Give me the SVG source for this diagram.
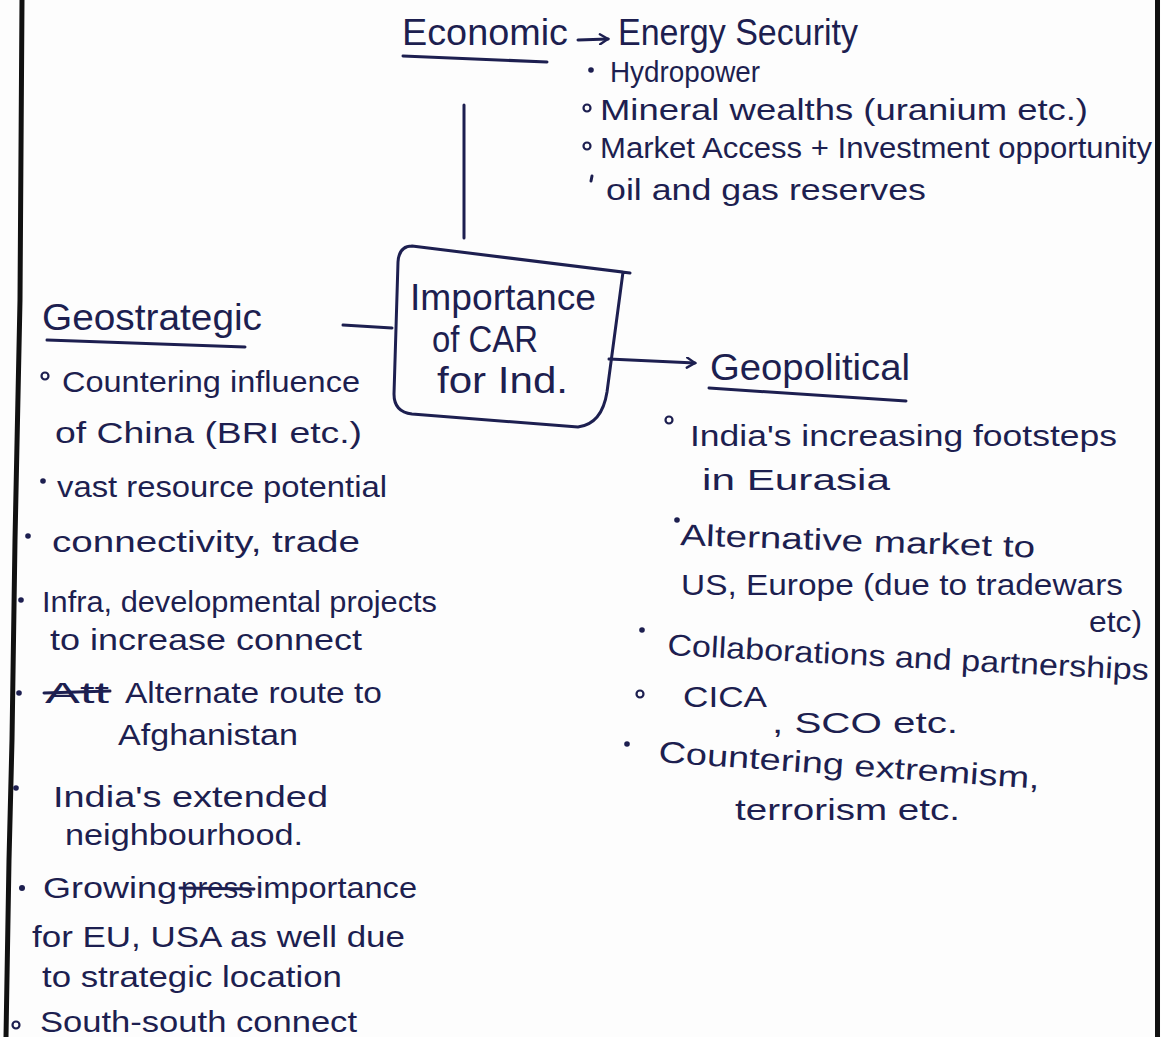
<svg xmlns="http://www.w3.org/2000/svg" width="1161" height="1037" viewBox="0 0 1161 1037">
  <defs>
    <style>
      .ink { fill: #1d1f50; font-family: "Liberation Sans", Arial, sans-serif; }
      .t { font-size: 30px; }
      .h { font-size: 36px; }
      .stroke { stroke: #1d1f50; stroke-width: 3; fill: none; stroke-linecap: round; stroke-linejoin: round; }
      .dot { fill: #1d1f50; }
      .ring { fill: none; stroke: #1d1f50; stroke-width: 2.2; }
      .edge { stroke: #111; stroke-width: 5; fill: none; }
    </style>
    <marker id="head" viewBox="0 0 12 12" refX="10" refY="6" markerWidth="12" markerHeight="12" markerUnits="userSpaceOnUse" orient="auto">
      <path d="M2,1 L10,6 L2,11" fill="none" stroke="#1d1f50" stroke-width="2.4" stroke-linecap="round"/>
    </marker>
  </defs>

  <!-- paper with its ruled side margins -->
  <rect x="0" y="0" width="1161" height="1037" fill="#fdfdfd"/>
  <polyline class="edge" points="22,0 20,300 15,540 12,740 9,860 6,1037"/>
  <line class="edge" x1="1157.5" y1="0" x2="1157.5" y2="1037"/>

  <!-- connectors -->
  <g id="connectors">
    <line class="stroke" x1="464" y1="105" x2="464" y2="238"/>
    <line class="stroke" x1="343" y1="325" x2="392" y2="328"/>
    <line class="stroke" x1="609" y1="359" x2="695" y2="363" marker-end="url(#head)"/>
    <line class="stroke" x1="578" y1="40" x2="608" y2="39" marker-end="url(#head)"/>
  </g>

  <!-- central node -->
  <g id="node-centre">
    <path class="stroke" d="M412,246 L630,273 M623,272 L607,392 Q602,424 578,427 L412,414 Q394,412 394,394 L398,262 Q399,246 412,246 Z"/>
    <text class="ink h" x="410" y="310" textLength="186" lengthAdjust="spacingAndGlyphs">Importance</text>
    <text class="ink h" x="432" y="352" textLength="106" lengthAdjust="spacingAndGlyphs">of CAR</text>
    <text class="ink h" x="437" y="393" textLength="131" lengthAdjust="spacingAndGlyphs">for Ind.</text>
  </g>

  <!-- economic branch -->
  <g id="node-economic">
    <text class="ink h" x="402" y="45" textLength="166" lengthAdjust="spacingAndGlyphs">Economic</text>
    <line class="stroke" x1="403" y1="56" x2="547" y2="62"/>
    <text class="ink h" x="618" y="45" textLength="240" lengthAdjust="spacingAndGlyphs">Energy Security</text>
    <circle class="dot" cx="591" cy="70" r="2.8"/>
    <text class="ink t" x="610" y="82" textLength="150" lengthAdjust="spacingAndGlyphs">Hydropower</text>
    <circle class="ring" cx="587" cy="108" r="3.5"/>
    <text class="ink t" x="600" y="120" textLength="488" lengthAdjust="spacingAndGlyphs">Mineral wealths (uranium etc.)</text>
    <circle class="ring" cx="587" cy="146" r="3.5"/>
    <text class="ink t" x="600" y="158" textLength="552" lengthAdjust="spacingAndGlyphs">Market Access + Investment opportunity</text>
    <line class="stroke" x1="592" y1="176" x2="591" y2="181"/>
    <text class="ink t" x="606" y="200" textLength="320" lengthAdjust="spacingAndGlyphs">oil and gas reserves</text>
  </g>

  <!-- geostrategic branch -->
  <g id="node-geostrategic">
    <text class="ink h" x="42" y="330" textLength="220" lengthAdjust="spacingAndGlyphs">Geostrategic</text>
    <line class="stroke" x1="47" y1="340" x2="245" y2="347"/>
    <circle class="ring" cx="45" cy="376" r="3.5"/>
    <text class="ink t" x="62" y="392" textLength="298" lengthAdjust="spacingAndGlyphs">Countering influence</text>
    <text class="ink t" x="55" y="443" textLength="307" lengthAdjust="spacingAndGlyphs">of China (BRI etc.)</text>
    <circle class="dot" cx="43" cy="481" r="2.8"/>
    <text class="ink t" x="57" y="497" textLength="330" lengthAdjust="spacingAndGlyphs">vast resource potential</text>
    <circle class="dot" cx="28" cy="536" r="2.8"/>
    <text class="ink t" x="52" y="552" textLength="308" lengthAdjust="spacingAndGlyphs">connectivity, trade</text>
    <circle class="dot" cx="21" cy="600" r="2.8"/>
    <text class="ink t" x="42" y="612" textLength="395" lengthAdjust="spacingAndGlyphs">Infra, developmental projects</text>
    <text class="ink t" x="50" y="650" textLength="312" lengthAdjust="spacingAndGlyphs">to increase connect</text>
    <circle class="dot" cx="19" cy="693" r="2.8"/>
    <text class="ink t" x="45" y="703" textLength="64" lengthAdjust="spacingAndGlyphs">Att</text>
    <line class="stroke" x1="44" y1="693" x2="110" y2="691"/>
    <text class="ink t" x="125" y="703" textLength="257" lengthAdjust="spacingAndGlyphs">Alternate route to</text>
    <text class="ink t" x="118" y="745" textLength="180" lengthAdjust="spacingAndGlyphs">Afghanistan</text>
    <circle class="dot" cx="16" cy="788" r="2.8"/>
    <text class="ink t" x="53" y="807" textLength="275" lengthAdjust="spacingAndGlyphs">India's extended</text>
    <text class="ink t" x="65" y="845" textLength="238" lengthAdjust="spacingAndGlyphs">neighbourhood.</text>
    <circle class="dot" cx="22" cy="888" r="3"/>
    <text class="ink t" x="43" y="898" textLength="134" lengthAdjust="spacingAndGlyphs">Growing</text>
    <text class="ink t" x="181" y="898" textLength="72" lengthAdjust="spacingAndGlyphs">press</text>
    <line class="stroke" x1="180" y1="888" x2="254" y2="889"/>
    <text class="ink t" x="256" y="898" textLength="161" lengthAdjust="spacingAndGlyphs">importance</text>
    <text class="ink t" x="32" y="947" textLength="373" lengthAdjust="spacingAndGlyphs">for EU, USA as well due</text>
    <text class="ink t" x="42" y="987" textLength="300" lengthAdjust="spacingAndGlyphs">to strategic location</text>
    <circle class="ring" cx="16" cy="1025" r="3.5"/>
    <text class="ink t" x="40" y="1032" textLength="317" lengthAdjust="spacingAndGlyphs">South-south connect</text>
  </g>

  <!-- geopolitical branch -->
  <g id="node-geopolitical">
    <text class="ink h" x="710" y="380" textLength="200" lengthAdjust="spacingAndGlyphs">Geopolitical</text>
    <line class="stroke" x1="709" y1="388" x2="906" y2="401"/>
    <circle class="ring" cx="669" cy="420" r="3.5"/>
    <text class="ink t" x="690" y="446" textLength="427" lengthAdjust="spacingAndGlyphs">India's increasing footsteps</text>
    <text class="ink t" x="702" y="490" textLength="188" lengthAdjust="spacingAndGlyphs">in Eurasia</text>
    <circle class="dot" cx="677" cy="520" r="2.8"/>
    <text class="ink t" x="680" y="545" textLength="355" lengthAdjust="spacingAndGlyphs" transform="rotate(2 680 545)">Alternative market to</text>
    <text class="ink t" x="681" y="595" textLength="442" lengthAdjust="spacingAndGlyphs">US, Europe (due to tradewars</text>
    <text class="ink t" x="1089" y="632" textLength="53" lengthAdjust="spacingAndGlyphs">etc)</text>
    <circle class="dot" cx="642" cy="630" r="2.8"/>
    <text class="ink t" x="667" y="655" textLength="482" lengthAdjust="spacingAndGlyphs" transform="rotate(3 667 655)">Collaborations and partnerships</text>
    <circle class="ring" cx="640" cy="694" r="3.5"/>
    <text class="ink t" x="683" y="707" textLength="84" lengthAdjust="spacingAndGlyphs">CICA</text>
    <text class="ink t" x="772" y="733" textLength="186" lengthAdjust="spacingAndGlyphs">, SCO etc.</text>
    <circle class="dot" cx="627" cy="744" r="2.8"/>
    <text class="ink t" x="658" y="762" textLength="382" lengthAdjust="spacingAndGlyphs" transform="rotate(4 658 762)">Countering extremism,</text>
    <text class="ink t" x="735" y="820" textLength="225" lengthAdjust="spacingAndGlyphs">terrorism etc.</text>
  </g>
</svg>
